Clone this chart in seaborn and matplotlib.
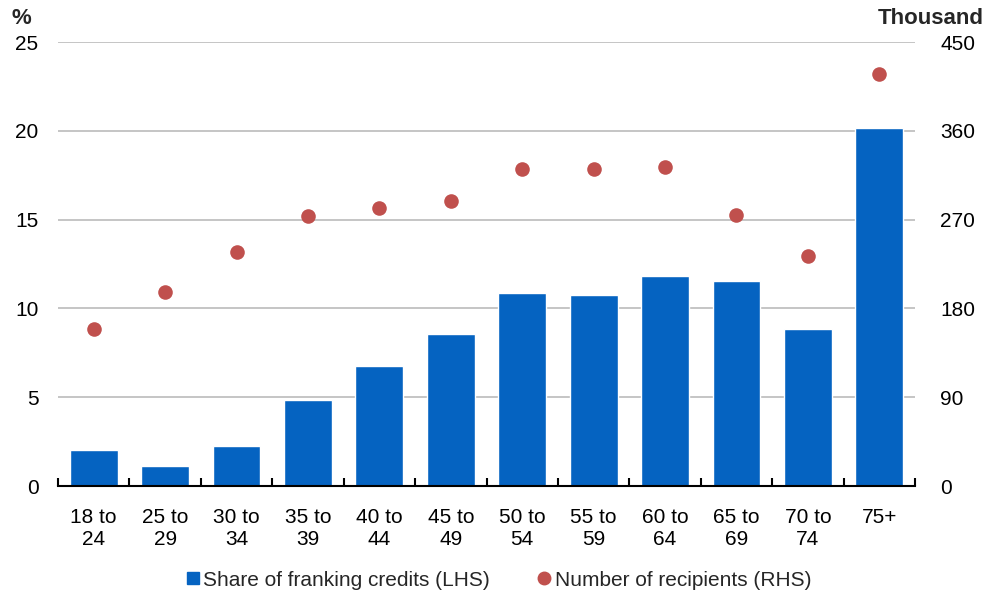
import matplotlib
matplotlib.use("Agg")
import matplotlib.pyplot as plt
import seaborn as sns
import numpy as np
import pandas as pd
from matplotlib.lines import Line2D

categories = ["18 to\n24", "25 to\n29", "30 to\n34", "35 to\n39", "40 to\n44", "45 to\n49",
              "50 to\n54", "55 to\n59", "60 to\n64", "65 to\n69", "70 to\n74", "75+"]
share_franking = [2.0, 1.15, 2.25, 4.85, 6.75, 8.55, 10.85, 10.75, 11.85, 11.55, 8.85, 20.15]
recipients = [159, 197, 237, 274, 282, 289, 321, 321, 323, 275, 233, 418]
left_ticks = [0, 5, 10, 15, 20, 25]
right_ticks = [0, 90, 180, 270, 360, 450]

sns.set_theme(style="white")
plt.rcParams["font.family"] = ["Liberation Sans", "DejaVu Sans"]

BLUE = "#0563C1"
RED = "#C0504D"

df = pd.DataFrame({"cat": categories, "share": share_franking, "rec": recipients})

fig = plt.figure(figsize=(9.9, 6.01), dpi=100)
ax = fig.add_axes([58/990, (601-486)/601, (915-58)/990, (486-42)/601])

for y in left_ticks[1:]:
    ax.axhline(y, color="#c0c0c0", lw=1.3, zorder=0)

sns.barplot(data=df, x="cat", y="share", color=BLUE, width=0.67, saturation=1,
            ax=ax, zorder=2)
ax.set_xlim(-0.5, len(categories) - 0.5)
ax.set_ylim(0, 25)
ax.set_yticks(left_ticks)
ax.set_xlabel("")
ax.set_ylabel("")

ax2 = ax.twinx()
sns.stripplot(data=df, x="cat", y="rec", color=RED, jitter=False, size=10.5,
              linewidth=0, ax=ax2, zorder=3)
ax2.set_xlim(-0.5, len(categories) - 0.5)
ax2.set_ylim(0, 450)
ax2.set_yticks(right_ticks)
ax2.set_ylabel("")
ax2.set_xlabel("")

for a in (ax, ax2):
    for s in ["top", "left", "right", "bottom"]:
        a.spines[s].set_visible(False)
    a.grid(False)

ax.spines["bottom"].set_visible(True)
ax.spines["bottom"].set_color("black")
ax.spines["bottom"].set_linewidth(1.5)
ax.spines["bottom"].set_zorder(5)

ax.tick_params(axis="y", length=0, labelsize=15, pad=14, colors="black")
ax2.tick_params(axis="y", length=0, labelsize=15, pad=18, colors="black")
ax.set_xticks(np.arange(len(categories)))
ax.set_xticklabels(categories, linespacing=1.2)
ax.tick_params(axis="x", which="major", bottom=True, length=0, labelsize=15, pad=16,
               colors="black")
ax.set_xticks(np.arange(-0.5, len(categories), 1.0), minor=True)
ax.tick_params(axis="x", which="minor", bottom=True, direction="in", length=6,
               width=1.5, color="black")
ax.yaxis.set_minor_locator(matplotlib.ticker.NullLocator())

fig.text(11/990, 1 - 18/601, "%", fontsize=16, fontweight="bold", ha="left", va="center")
fig.text(984/990, 1 - 18/601, "Thousand", fontsize=16, fontweight="bold", ha="right",
         va="center")

handles = [
    Line2D([], [], marker="s", color=BLUE, linestyle="none", markersize=9),
    Line2D([], [], marker="o", color=RED, linestyle="none", markersize=9),
]
fig.legend(handles, ["Share of franking credits (LHS)", "Number of recipients (RHS)"],
           loc="center", bbox_to_anchor=(498/990, 1 - 580/601), ncol=2, frameon=False,
           fontsize=15, handletextpad=0.1, columnspacing=2.2, handlelength=0.8)

fig.savefig("out.png", dpi=100)
